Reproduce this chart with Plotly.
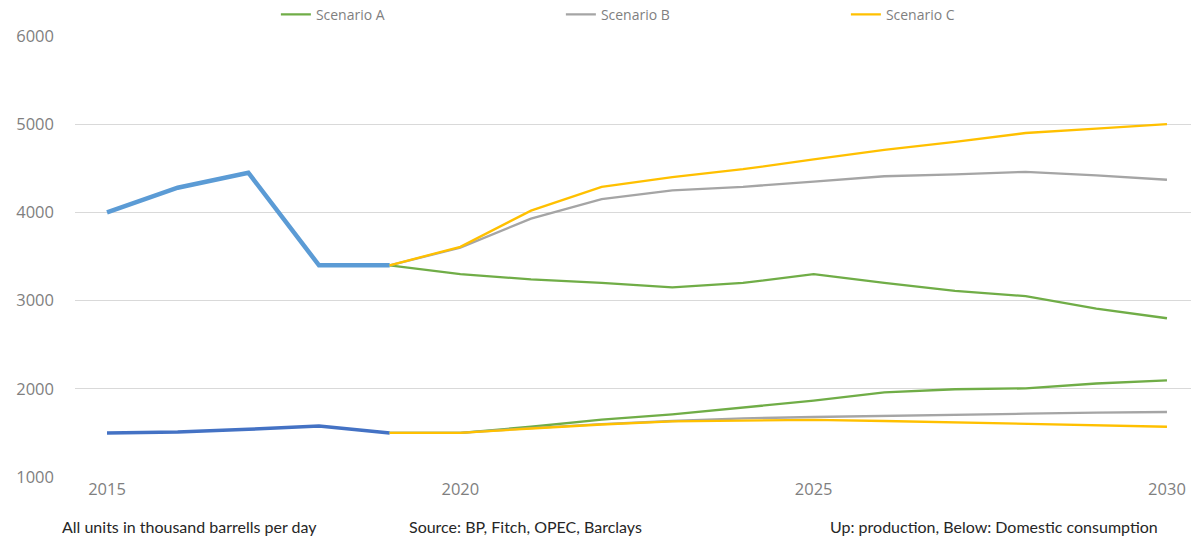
import plotly.graph_objects as go

years_hist = [2015, 2016, 2017, 2018, 2019]
prod_hist = [4000, 4280, 4450, 3400, 3400]
cons_hist = [1500, 1510, 1540, 1578, 1500]

years_scen = [2019, 2020, 2021, 2022, 2023, 2024, 2025, 2026, 2027, 2028, 2029, 2030]
prod_a = [3400, 3300, 3240, 3200, 3150, 3200, 3300, 3200, 3110, 3050, 2910, 2800]
prod_b = [3400, 3600, 3930, 4150, 4250, 4290, 4350, 4410, 4430, 4460, 4420, 4370]
prod_c = [3400, 3610, 4020, 4290, 4400, 4490, 4600, 4710, 4800, 4900, 4950, 5000]
cons_a = [1500, 1500, 1570, 1650, 1710, 1790, 1865, 1960, 1995, 2005, 2060, 2095]
cons_b = [1500, 1500, 1555, 1600, 1635, 1665, 1680, 1695, 1710, 1718, 1730, 1737]
cons_c = [1500, 1500, 1550, 1595, 1630, 1643, 1648, 1635, 1620, 1601, 1582, 1570]

scenario_names = ["Scenario A", "Scenario B", "Scenario C"]
scenario_colors = ["#70AD47", "#A5A5A5", "#FFC000"]

x_ticks = [2015, 2020, 2025, 2030]
y_ticks = [1000, 2000, 3000, 4000, 5000, 6000]

fig = go.Figure()

fig.add_trace(go.Scatter(x=years_hist, y=prod_hist, mode="lines",
                         line=dict(color="#5B9BD5", width=4.5), showlegend=False))
fig.add_trace(go.Scatter(x=years_hist, y=cons_hist, mode="lines",
                         line=dict(color="#4472C4", width=3.5), showlegend=False))

for name, color, p, c in zip(scenario_names, scenario_colors,
                             [prod_a, prod_b, prod_c], [cons_a, cons_b, cons_c]):
    fig.add_trace(go.Scatter(x=years_scen, y=c, mode="lines", name=name,
                             legendgroup=name, showlegend=False,
                             line=dict(color=color, width=2.3)))
    fig.add_trace(go.Scatter(x=years_scen, y=p, mode="lines", name=name,
                             legendgroup=name, showlegend=True,
                             line=dict(color=color, width=2.3)))

font_ticks = dict(family="Open Sans", size=16.5, color="#7F7F7F")

fig.update_layout(
    width=1191, height=538,
    margin=dict(l=75, r=0, t=36, b=61, autoexpand=False),
    paper_bgcolor="white", plot_bgcolor="white",
    showlegend=True,
    legend=dict(orientation="h", x=0.18, y=1.048, xanchor="left", yanchor="middle",
                font=dict(family="Open Sans", size=14, color="#7F7F7F"),
                entrywidth=240, entrywidthmode="pixels", traceorder="normal",
                bgcolor="rgba(0,0,0,0)"),
    xaxis=dict(range=[2014.547, 2030.34], tickvals=x_ticks, ticktext=[str(v) for v in x_ticks],
               showgrid=False, zeroline=False, showline=False, ticks="",
               tickfont=font_ticks),
    yaxis=dict(range=[1000, 6000], tickvals=y_ticks, showgrid=True, gridcolor="#D9D9D9",
               gridwidth=1.3, zeroline=False, showline=False, ticks="", ticklabelstandoff=20,
               tickfont=font_ticks),
)

notes = [
    ("All units in thousand barrells per day", 60),
    ("Source: BP, Fitch, OPEC, Barclays", 407),
    ("Up: production, Below: Domestic consumption", 828),
]
for txt, px in notes:
    fig.add_annotation(text=txt, xref="paper", yref="paper",
                       x=(px - 75) / 1116, y=(477 - 526) / 441,
                       xanchor="left", yanchor="middle", showarrow=False,
                       font=dict(family="Lato", size=16, color="#262626"))

fig.write_html("out.html", config={"displayModeBar": False},
               post_script="document.body.style.margin='0';")
